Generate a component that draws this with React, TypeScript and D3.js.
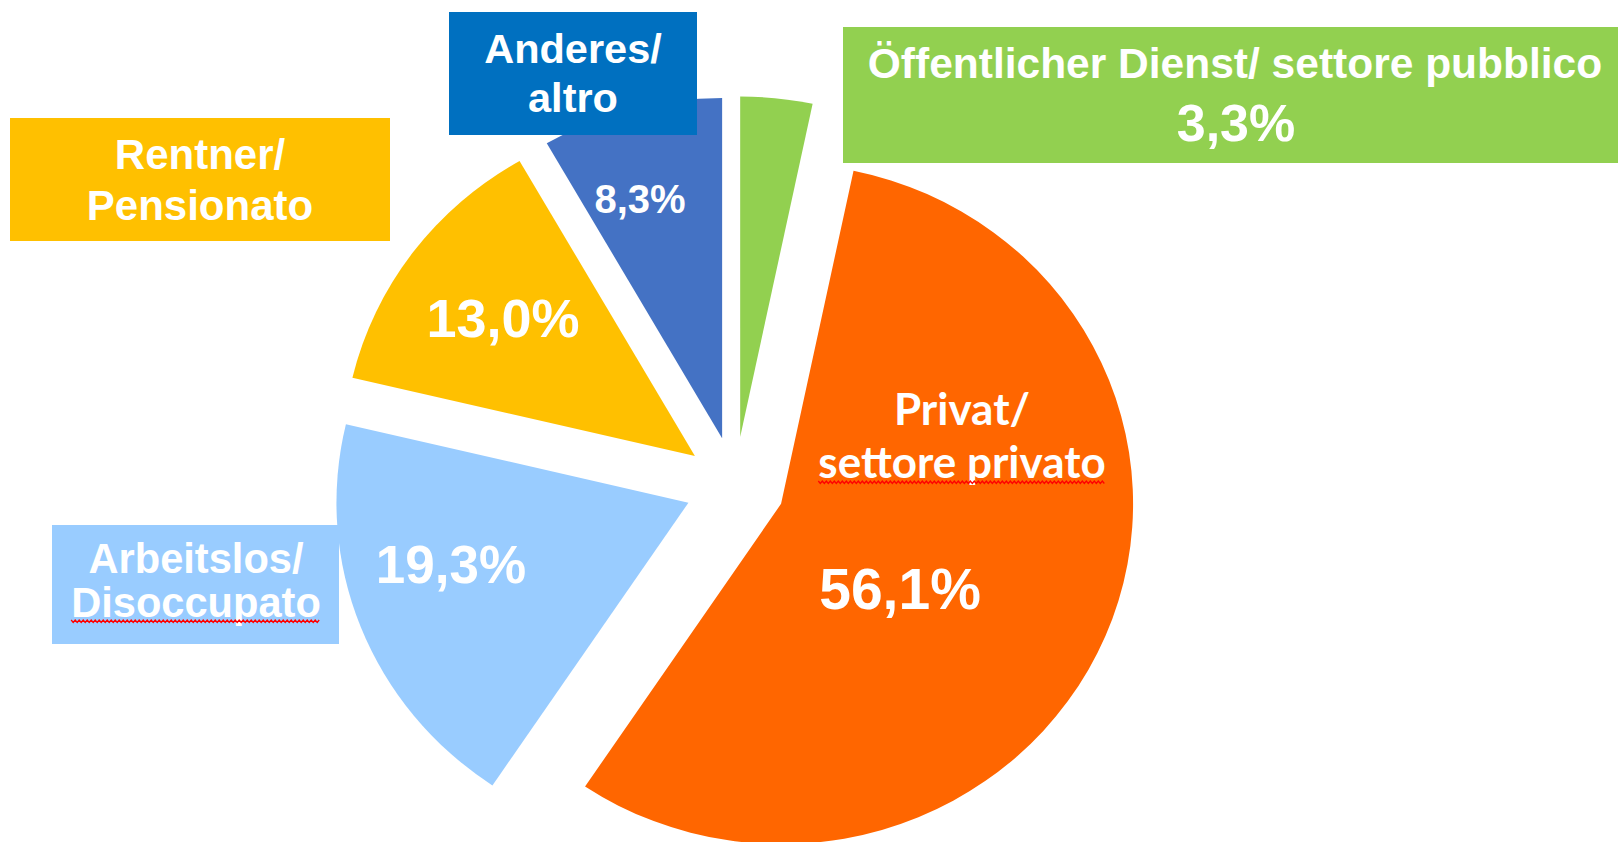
import React from "react";
import * as d3 from "d3";

// ---- data ----
const categories = [
  "Öffentlicher Dienst/ settore pubblico",
  "Privat/ settore privato",
  "Arbeitslos/ Disoccupato",
  "Rentner/ Pensionato",
  "Anderes/ altro",
];
const values = [3.3, 56.1, 19.3, 13.0, 8.3];
const nameLines = [
  ["Öffentlicher Dienst/ settore pubblico"],
  ["Privat/", "settore privato"],
  ["Arbeitslos/", "Disoccupato"],
  ["Rentner/", "Pensionato"],
  ["Anderes/", "altro"],
];
const sliceColors = ["#92D050", "#FF6600", "#99CCFF", "#FFC000", "#4472C4"];
const boxColors = ["#92D050", null, "#99CCFF", "#FFC000", "#0070C0"];

const W = 1618;
const H = 842;
const R = 352;
const YS = 0.967;
const CX = 735;
const CY = 485;
const EXPLODE = 50;

const locale = d3.formatLocale({ decimal: ",", thousands: ".", grouping: [3], currency: ["", "€"] });
const fmt = locale.format(".1f");

type LabelLayout = {
  box: [number, number, number, number] | null;
  cx: number;
  lineY: number[];
  nameSize: number;
  nameFont: string;
  squiggle: number | null; // index of line with spell-check underline
  vx: number;
  vy: number;
  vSize: number;
};

const layout: LabelLayout[] = [
  { box: [843, 27, 1618, 163], cx: 1235, lineY: [78], nameSize: 42.5, nameFont: "'Liberation Sans', Arial, sans-serif", squiggle: null, vx: 1236, vy: 141, vSize: 52 },
  { box: null, cx: 962, lineY: [425, 478], nameSize: 44, nameFont: "Lato, 'Open Sans', sans-serif", squiggle: 1, vx: 900, vy: 609, vSize: 57 },
  { box: [52, 525, 339, 644], cx: 196, lineY: [573, 617], nameSize: 41.6, nameFont: "'Liberation Sans', Arial, sans-serif", squiggle: 1, vx: 451, vy: 583, vSize: 53 },
  { box: [10, 118, 390, 241], cx: 200, lineY: [169, 220], nameSize: 42, nameFont: "'Liberation Sans', Arial, sans-serif", squiggle: null, vx: 503, vy: 337, vSize: 54 },
  { box: [449, 12, 697, 135], cx: 573, lineY: [63, 112], nameSize: 41.5, nameFont: "'Liberation Sans', Arial, sans-serif", squiggle: null, vx: 640, vy: 213, vSize: 40 },
];

function squigglePath(x0: number, x1: number, y: number): string {
  const pts: [number, number][] = [];
  let up = true;
  for (let x = x0; x <= x1; x += 2) {
    pts.push([x, up ? y : y + 2.5]);
    up = !up;
  }
  return d3.line()(pts) || "";
}

export default function App() {
  const pie = d3.pie<number>().sort(null).value((d) => d).startAngle(0).endAngle(2 * Math.PI);
  const arcs = pie(values);
  const arcGen = d3.arc<d3.PieArcDatum<number>>().innerRadius(0).outerRadius(R);

  const textRefs = React.useRef<(SVGTextElement | null)[]>([]);
  const [squiggles, setSquiggles] = React.useState<{ x0: number; x1: number; y: number }[]>([]);

  React.useEffect(() => {
    const s: { x0: number; x1: number; y: number }[] = [];
    textRefs.current.forEach((el, i) => {
      if (!el) return;
      const bb = el.getBBox();
      const L = layout[i];
      s.push({ x0: bb.x, x1: bb.x + bb.width, y: L.lineY[L.squiggle as number] + 3 });
    });
    setSquiggles(s);
  }, []);

  return (
    <svg
      width={W}
      height={H}
      style={{ position: "absolute", left: 0, top: 0, background: "#fff" }}
      fontWeight="bold"
    >
      <g transform={`translate(${CX},${CY}) scale(1,${YS})`}>
        {arcs.map((a, i) => {
          const mid = (a.startAngle + a.endAngle) / 2;
          const dx = EXPLODE * Math.sin(mid);
          const dy = -EXPLODE * Math.cos(mid);
          return (
            <path
              key={categories[i]}
              d={arcGen(a) || ""}
              transform={`translate(${dx},${dy})`}
              fill={sliceColors[i]}
            />
          );
        })}
      </g>
      {layout.map((L, i) =>
        L.box ? (
          <rect
            key={"box" + i}
            x={L.box[0]}
            y={L.box[1]}
            width={L.box[2] - L.box[0]}
            height={L.box[3] - L.box[1]}
            fill={boxColors[i] as string}
          />
        ) : null
      )}
      {layout.map((L, i) => (
        <g key={"lbl" + i} fill="#fff" textAnchor="middle">
          {nameLines[i].map((line, j) => (
            <text
              key={j}
              ref={
                L.squiggle === j
                  ? (el) => {
                      textRefs.current[i] = el;
                    }
                  : undefined
              }
              x={L.cx}
              y={L.lineY[j]}
              fontSize={L.nameSize}
              fontFamily={L.nameFont}
            >
              {line}
            </text>
          ))}
          <text x={L.vx} y={L.vy} fontSize={L.vSize} fontFamily="'Liberation Sans', Arial, sans-serif">
            {fmt(values[i]) + "%"}
          </text>
        </g>
      ))}
      {squiggles.map((s, i) => (
        <path key={"sq" + i} d={squigglePath(s.x0, s.x1, s.y)} fill="none" stroke="#FF0000" strokeWidth={1.3} />
      ))}
    </svg>
  );
}
